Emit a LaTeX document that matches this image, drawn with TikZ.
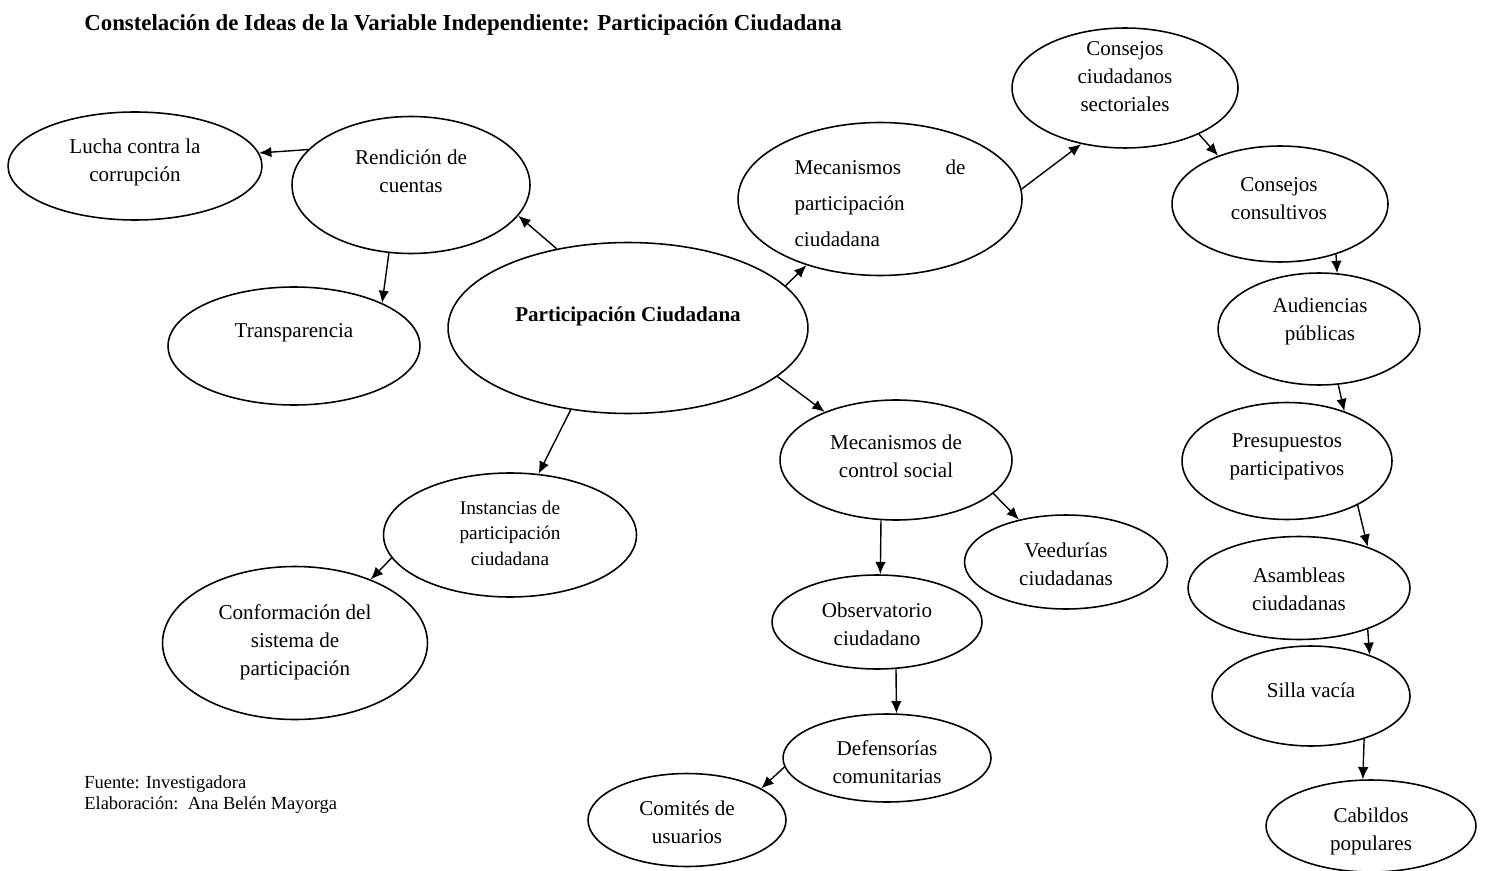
\documentclass[tikz,border=0pt]{standalone}
\usepackage{fontspec}
\setmainfont{Liberation Serif}
\usetikzlibrary{shapes.geometric, arrows.meta}

\tikzset{
    bubble/.style={ellipse, draw=black, line width=0.9pt, inner sep=0pt},
    txt/.style={align=center, inner sep=0pt, font=\fontsize{12}{16}\selectfont},
    flecha/.style={-{Latex[length=7pt, width=6pt]}, line width=0.8pt}
}

\begin{document}
\begin{tikzpicture}[x=0.02cm, y=-0.02cm]
        \useasboundingbox (0, 0) rectangle (1486, 871);

        \node(title) at (84, 25)[anchor=west, inner sep=0pt, font=\bfseries\fontsize{13}{15}\selectfont]{Constelación de Ideas de la Variable Independiente: Participación Ciudadana};

        % left branch
        \node[bubble, minimum width=5.08cm, minimum height=2.16cm](lucha) at (135, 166){};
        \node[bubble, minimum width=4.76cm, minimum height=2.74cm](rendicion) at (411, 185){};
        \node[bubble, minimum width=5.04cm, minimum height=2.36cm](transparencia) at (294, 346){};
        \node[bubble, minimum width=7.2cm, minimum height=3.42cm](participacion) at (628, 328){};
        \node[bubble, minimum width=5.06cm, minimum height=2.48cm](instancias) at (510, 535){};
        \node[bubble, minimum width=5.3cm, minimum height=3.06cm](conformacion) at (295, 643){};

        \node[txt](lucha-t) at (135, 162){Lucha contra la\\corrupción};
        \node[txt](rendicion-t) at (411, 171){Rendición de\\cuentas};
        \node[txt](transparencia-t) at (294, 333){Transparencia};
        \node[txt, font=\bfseries\fontsize{12}{16}\selectfont](participacion-t) at (628, 316){Participación Ciudadana};
        \node[txt, font=\fontsize{11}{14.5}\selectfont](instancias-t) at (510, 533){Instancias de\\participación\\ciudadana};
        \node[txt](conformacion-t) at (295, 642){Conformación del\\sistema de\\participación};

        % mecanismos de participacion
        \node[bubble, minimum width=5.68cm, minimum height=3.06cm](mecpart) at (880, 199){};
        \node[bubble, minimum width=4.52cm, minimum height=2.4cm](sectoriales) at (1125, 88){};
        \node[bubble, minimum width=4.32cm, minimum height=2.32cm](consultivos) at (1280, 204){};
        \node[bubble, minimum width=4.04cm, minimum height=2.24cm](audiencias) at (1319, 329){};
        \node[bubble, minimum width=4.2cm, minimum height=2.34cm](presupuestos) at (1287, 461){};
        \node[bubble, minimum width=4.44cm, minimum height=2.06cm](asambleas) at (1299, 588){};
        \node[bubble, minimum width=3.96cm, minimum height=2.0cm](silla) at (1311, 696){};
        \node[bubble, minimum width=4.2cm, minimum height=1.84cm](cabildos) at (1371, 826){};

        \node[txt, text width=3.42cm, align=left, font=\fontsize{12}{20.5}\selectfont](mecpart-t) at (880, 203){\hbox to 3.42cm{Mecanismos\hfill de}\\participación\\ciudadana};
        \node[txt](sectoriales-t) at (1125, 77){Consejos\\ciudadanos\\sectoriales};
        \node[txt](consultivos-t) at (1279, 199){Consejos\\consultivos};
        \node[txt](audiencias-t) at (1320, 321){Audiencias\\públicas};
        \node[txt](presupuestos-t) at (1287, 457){Presupuestos\\participativos};
        \node[txt](asambleas-t) at (1299, 589){Asambleas\\ciudadanas};
        \node[txt](silla-t) at (1311, 690){Silla vacía};
        \node[txt](cabildos-t) at (1371, 831){Cabildos\\populares};

        % mecanismos de control social
        \node[bubble, minimum width=4.64cm, minimum height=2.4cm](control) at (896, 460){};
        \node[bubble, minimum width=4.06cm, minimum height=1.88cm](veedurias) at (1066, 562){};
        \node[bubble, minimum width=4.2cm, minimum height=1.88cm](observatorio) at (877, 622){};
        \node[bubble, minimum width=4.16cm, minimum height=1.76cm](defensorias) at (887, 758){};
        \node[bubble, minimum width=3.96cm, minimum height=1.86cm](comites) at (687, 820){};

        \node[txt](control-t) at (896, 456){Mecanismos de\\control social};
        \node[txt](veedurias-t) at (1066, 564){Veedurías\\ciudadanas};
        \node[txt](observatorio-t) at (877, 624){Observatorio\\ciudadano};
        \node[txt](defensorias-t) at (887, 762){Defensorías\\comunitarias};
        \node[txt](comites-t) at (687, 822){Comités de\\usuarios};

        \node(fuente) at (84, 795)[anchor=west, align=left, inner sep=0pt, font=\fontsize{10.5}{12}\selectfont]{Fuente: Investigadora\\Elaboración:\ \ Ana Belén Mayorga};

        \draw[flecha](rendicion.161) -- (lucha.6);
        \draw[flecha](rendicion.-108) -- (transparencia.26);
        \draw[flecha](participacion.132) -- (rendicion.-16);
        \draw[flecha](participacion.15) -- (mecpart.222);
        \draw[flecha](participacion.-18) -- (control.146);
        \draw[flecha](participacion.235) -- (instancias.65);
        \draw[flecha](instancias.191) -- (conformacion.40);
        \draw[flecha](mecpart.4) -- (sectoriales.232);
        \draw[flecha](sectoriales.-32) -- (consultivos.142);
        \draw[flecha](consultivos.-42) -- (audiencias.72);
        \draw[flecha](audiencias.-71) -- (presupuestos.41);
        \draw[flecha](presupuestos.-32) -- (asambleas.31);
        \draw[flecha](asambleas.-31) -- (silla.35);
        \draw[flecha](silla.-39) -- (cabildos.100);
        \draw[flecha](control.-19) -- (veedurias.138);
        \draw[flecha](control.-104) -- (observatorio.86);
        \draw[flecha](observatorio.-68) -- (defensorias.78);
        \draw[flecha](defensorias.185) -- (comites.23);

    \end{tikzpicture}
\end{document}
